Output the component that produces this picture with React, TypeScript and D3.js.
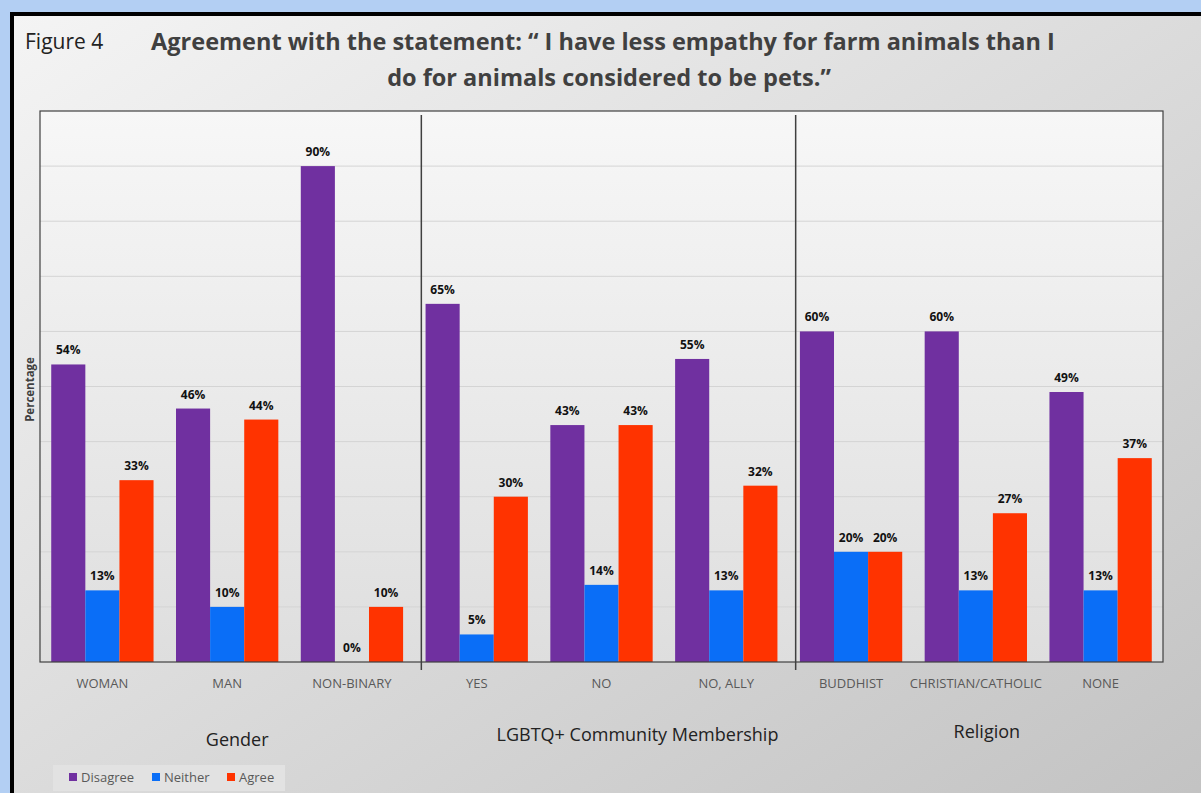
import React from "react";
import * as d3 from "d3";

const categories = ["WOMAN", "MAN", "NON-BINARY", "YES", "NO", "NO, ALLY", "BUDDHIST", "CHRISTIAN/CATHOLIC", "NONE"];
const series = ["Disagree", "Neither", "Agree"];
const disagree = [54, 46, 90, 65, 43, 55, 60, 60, 49];
const neither = [13, 10, 0, 5, 14, 13, 20, 13, 13];
const agree = [33, 44, 10, 30, 43, 32, 20, 27, 37];
const groups = ["Gender", "LGBTQ+ Community Membership", "Religion"];
const groupSizes = [3, 3, 3];
const yTicks = [0, 10, 20, 30, 40, 50, 60, 70, 80, 90, 100];
const colors = ["#7030A0", "#0A6EF7", "#FF3300"];

const W = 1201, H = 793;
const L = 40, R = 1163, T = 111, B = 662;

export default function App() {
  const x = d3.scaleBand<string>().domain(categories).range([L, R]).paddingInner(0.18).paddingOuter(0.09);
  const xs = d3.scaleBand<string>().domain(series).range([0, x.bandwidth()]);
  const y = d3.scaleLinear().domain([0, 100]).range([B, T]);
  const xc = d3.scaleBand<string>().domain(categories).range([L, R]);
  const values = [disagree, neither, agree];
  const sepIdx: number[] = [];
  let acc = 0;
  groupSizes.forEach((s, i) => { acc += s; if (i < groupSizes.length - 1) sepIdx.push(acc); });
  const groupCenters: number[] = [];
  let start = 0;
  groupSizes.forEach((s) => {
    const a = xc(categories[start])!;
    const b = xc(categories[start + s - 1])! + xc.bandwidth();
    groupCenters.push((a + b) / 2);
    start += s;
  });
  const groupDx = [10, 36, 11];
  const groupY = [746, 741, 738];
  const font = "'Open Sans', 'DejaVu Sans', sans-serif";

  return (
    <svg width={W} height={H} style={{ position: "absolute", left: 0, top: 0 }} fontFamily={font}>
      <defs>
        <linearGradient id="bg" x1="0" y1="0" x2="1" y2="1">
          <stop offset="0" stopColor="#f4f4f4" />
          <stop offset="1" stopColor="#c2c2c2" />
        </linearGradient>
        <linearGradient id="plotbg" x1="0" y1="0" x2="0" y2="1">
          <stop offset="0" stopColor="#f7f7f7" />
          <stop offset="1" stopColor="#dedede" />
        </linearGradient>
      </defs>
      <rect x={0} y={0} width={W} height={H} fill="#b3cff3" />
      <rect x={10} y={12} width={W} height={H} fill="#000" />
      <rect x={14} y={16} width={W} height={H} fill="url(#bg)" />
      <text x={25} y={49} fontSize={21} fill="#222">Figure 4</text>
      <text x={603} y={50} fontSize={23.5} fontWeight="bold" fill="#404040" textAnchor="middle">
        Agreement with the statement: “ I have less empathy for farm animals than I
      </text>
      <text x={609} y={86} fontSize={23.5} fontWeight="bold" fill="#404040" textAnchor="middle">
        do for animals considered to be pets.”
      </text>
      <rect x={L} y={T} width={R - L} height={B - T} fill="url(#plotbg)" />
      {yTicks.slice(1, -1).map((t) => (
        <line key={t} x1={L} x2={R} y1={y(t)} y2={y(t)} stroke="#d4d4d4" strokeWidth={1} />
      ))}
      {categories.map((c, i) => (
        <g key={c}>
          {series.map((s, j) => {
            const v = values[j][i];
            const bx = x(c)! + xs(s)!;
            return (
              <g key={s}>
                <rect x={bx} y={y(v)} width={xs.bandwidth()} height={B - y(v)} fill={colors[j]} />
                <text x={bx + xs.bandwidth() / 2} y={y(v) - 10} fontSize={12} fontWeight="bold" fill="#111" textAnchor="middle">
                  {v}%
                </text>
              </g>
            );
          })}
          <text x={xc(c)! + xc.bandwidth() / 2} y={688} fontSize={13} fill="#595959" textAnchor="middle">{c}</text>
        </g>
      ))}
      <rect x={L} y={T} width={R - L} height={B - T} fill="none" stroke="#404040" strokeWidth={1.2} />
      {sepIdx.map((k) => {
        const sx = xc(categories[k])! + 7;
        return <line key={k} x1={sx} x2={sx} y1={115} y2={670} stroke="#404040" strokeWidth={1.5} />;
      })}
      {groups.map((g, i) => (
        <text key={g} x={groupCenters[i] + groupDx[i]} y={groupY[i]} fontSize={18} fill="#222" textAnchor="middle">{g}</text>
      ))}
      <text transform={`translate(34,${(T + B) / 2 + 3}) rotate(-90)`} fontSize={11.5} fontWeight="bold" fill="#404040" textAnchor="middle">
        Percentage
      </text>
      <rect x={53} y={765} width={232} height={26} fill="#e2e2e2" />
      {series.map((s, j) => {
        const lx = [69, 152, 227][j];
        return (
          <g key={s}>
            <rect x={lx} y={773} width={8} height={8} fill={colors[j]} />
            <text x={lx + 12} y={782} fontSize={13} fill="#595959">{s}</text>
          </g>
        );
      })}
    </svg>
  );
}
